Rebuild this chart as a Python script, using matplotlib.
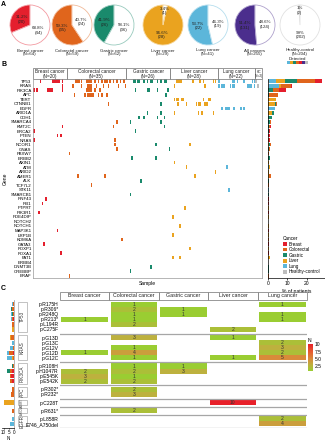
import numpy as np
import matplotlib.pyplot as plt
import matplotlib.colors as mcolors
import matplotlib.transforms as mtransforms
from matplotlib.patches import Rectangle, Patch
from matplotlib.cm import ScalarMappable

plt.rcParams['font.family'] = ['Liberation Sans', 'DejaVu Sans']
plt.rcParams['axes.linewidth'] = 0.5

W, H = 325, 440

# ---------------- data: panel A ----------------
pie_names = ['Breast cancer', 'Colorectal cancer', 'Gastric cancer', 'Liver cancer',
             'Lung cancer', 'All cancers', 'Healthy-control']
pie_detected = [20, 35, 26, 28, 22, 131, 2]
pie_undetected = [44, 24, 36, 1, 19, 124, 202]
pie_pct_det = ['31.2%', '59.3%', '41.9%', '96.6%', '53.7%', '51.4%', '1%']
pie_pct_und = ['68.8%', '40.7%', '58.1%', '3.4%', '46.3%', '48.6%', '99%']
pie_colors = ['#e41f2d', '#e0651c', '#1a8a6c', '#eaa31f', '#5cb6da', '#4b2e8d', '#bdbdbd']

# ---------------- data: panel B ----------------
genes = ['TP53', 'KRAS', 'PIK3CA', 'APC', 'TERT', 'CTNNB1', 'EGFR', 'ARID1A', 'CDH1',
         'SMARCA4', 'KMT2C', 'BRCA2', 'PTEN', 'NRAS', 'NCOR1', 'GNAS', 'FBXW7', 'ERBB2',
         'AXIN1', 'ATM', 'ARID2', 'AMER1', 'ALK', 'TCF7L2', 'STK11', 'SMARCB1', 'RNF43',
         'RB1', 'PTPRT', 'PIK3R1', 'PDE4DIP', 'NOTCH2', 'NOTCH1', 'MAP3K1', 'LRP1B',
         'KDM6A', 'GATA3', 'FOXP1', 'FOXA1', 'FAT1', 'ERBB4', 'DNMT3B', 'CREBBP', 'BRAF']
group_names = ['Breast cancer', 'Colorectal cancer', 'Gastric cancer', 'Liver cancer',
               'Lung cancer', 'HC']
group_sizes = [20, 35, 26, 28, 22, 2]
cancer_names = ['Breast', 'Colorectal', 'Gastric', 'Liver', 'Lung', 'Healthy-control']
cancer_colors = ['#e41f2d', '#e0651c', '#1a8a6c', '#eaa31f', '#5cb6da', '#bdbdbd']

# mutated sample positions inside each group
breast_mut = {'TP53': [4, 11, 12, 13, 14, 15, 17], 'KRAS': [17],
              'PIK3CA': [0, 2, 8, 9, 10, 11, 17], 'KMT2C': [17], 'BRCA2': [0],
              'PTEN': [14, 16], 'NRAS': [0], 'RNF43': [7], 'RB1': [5], 'PIK3R1': [3],
              'MAP3K1': [14], 'GATA3': [6], 'FOXA1': [16]}
colorectal_mut = {'TP53': [5, 6, 7, 8, 11, 12, 13, 14, 16, 18, 20, 22, 23, 25, 27, 29, 31, 33],
                  'KRAS': [3, 8, 12, 13, 14, 17, 21, 24, 30, 34],
                  'PIK3CA': [11, 12, 13, 14, 16, 19],
                  'APC': [4, 10, 12, 13, 14, 15, 18, 20, 23],
                  'CTNNB1': [24], 'SMARCA4': [29], 'KMT2C': [27], 'NRAS': [28],
                  'NCOR1': [28], 'GNAS': [29], 'FBXW7': [1], 'AMER1': [6, 22],
                  'TCF7L2': [14], 'KDM6A': [32], 'BRAF': [1]}
gastric_mut = {'TP53': [4, 5, 6, 7, 10, 12, 14, 15, 18, 20, 22, 23],
               'PIK3CA': [5, 12, 13, 18, 24], 'APC': [23], 'CTNNB1': [20],
               'ARID1A': [12, 20], 'CDH1': [7, 10, 18, 22], 'SMARCA4': [2, 20],
               'KMT2C': [22], 'BRCA2': [5], 'NCOR1': [17], 'GNAS': [25], 'ERBB2': [3, 17],
               'ALK': [8], 'SMARCB1': [2], 'DNMT3B': [14], 'CREBBP': [2]}
liver_mut = {'TP53': [3, 4, 5, 6, 13, 17, 19, 25, 26], 'KRAS': [2, 20],
             'TERT': [2, 3, 4, 6, 7, 19, 22, 23], 'CTNNB1': [4, 9, 15, 16, 17, 20, 21],
             'ARID1A': [2, 16, 18, 25], 'NCOR1': [11], 'AXIN1': [2], 'ATM': [9],
             'ARID2': [26], 'AMER1': [14], 'PTPRT': [8], 'PDE4DIP': [1], 'NOTCH1': [5],
             'LRP1B': [1], 'FOXP1': [11], 'FAT1': [1, 5]}
lung_mut = {'TP53': [0, 8, 9, 11, 15, 20, 21], 'KRAS': [0, 2, 3, 7, 8, 9, 17, 18, 19, 21],
            'EGFR': [2, 4, 5, 6, 9, 13, 15], 'ATM': [5], 'STK11': [6]}
hc_mut = {'TP53': [0], 'KRAS': [1]}
n_patients_bar = 193

# ---------------- data: panel C ----------------
c_mutations = ['p.R175H', 'p.R306*', 'p.R248Q', 'p.R213*', 'p.L194R', 'p.C275F',
               'p.G13D', 'p.G13C', 'p.G12V', 'p.G12D', 'p.G12C',
               'p.R108H', 'p.H1047R', 'p.E545K', 'p.E542K',
               'p.R302*', 'p.R232*', 'p.C228T', 'p.R631*', 'p.L858R', 'E746_A750del']
c_genes = ['TP53'] * 6 + ['KRAS'] * 5 + ['PIK3CA'] * 4 + ['APC'] * 2 + ['TERT'] + ['ARID1A'] + ['EGFR'] * 2
c_cancers = ['Breast cancer', 'Colorectal cancer', 'Gastric cancer', 'Liver cancer', 'Lung cancer']
c_breast = [0, 0, 0, 1, 0, 0, 0, 0, 0, 1, 0, 0, 2, 3, 2, 0, 0, 0, 0, 0, 0]
c_colorectal = [1, 2, 1, 1, 2, 0, 3, 0, 1, 4, 1, 1, 2, 1, 2, 2, 3, 0, 2, 0, 0]
c_gastric = [0, 1, 1, 0, 0, 0, 0, 0, 0, 0, 0, 1, 3, 0, 0, 0, 0, 0, 0, 0, 0]
c_liver = [0, 0, 0, 0, 0, 2, 1, 0, 0, 0, 1, 0, 0, 0, 0, 0, 0, 10, 0, 0, 0]
c_lung = [1, 0, 1, 1, 0, 0, 0, 2, 3, 2, 5, 0, 0, 0, 0, 0, 0, 0, 0, 2, 4]

fig = plt.figure(figsize=(W / 100, H / 100), dpi=100)


def px_axes(x, y, w, h):
    return fig.add_axes([x / W, 1 - (y + h) / H, w / W, h / H])


def lighten(c, f=0.55):
    r, g, b = mcolors.to_rgb(c)
    return (r + (1 - r) * f, g + (1 - g) * f, b + (1 - b) * f)


# ================= A: pies =================
axA = px_axes(0, 0, W, 62)
pie_x = [30, 72, 114, 163, 208, 255, 300]
cy, rad = 62 - 25, 20
for i in range(len(pie_names)):
    det, und = pie_detected[i], pie_undetected[i]
    col = pie_colors[i]
    axA.pie([det, und], colors=[col, 'white'], startangle=90, counterclock=True,
            center=(pie_x[i], cy), radius=rad,
            wedgeprops=dict(edgecolor=lighten(col), linewidth=0.6))
    f = det / (det + und)
    for frac, ang, txt, n in [(f, 90 + 180 * f, pie_pct_det[i], det),
                              (1 - f, 90 + 360 * f + 180 * (1 - f), pie_pct_und[i], und)]:
        rr = 0.5 if frac > 0.1 else 0.72
        a = np.deg2rad(ang)
        axA.text(pie_x[i] + rr * rad * np.cos(a), cy + rr * rad * np.sin(a),
                 f'{txt}\n({n})', ha='center', va='center', fontsize=3.2,
                 color='#222222', linespacing=1.1)
    axA.text(pie_x[i], 62 - 52.5, f'{pie_names[i]}\n(N={det + und})', ha='center',
             va='center', fontsize=3.2, color='#222222', linespacing=1.0)
axA.set_xlim(0, W)
axA.set_ylim(0, 62)
axA.set_aspect('equal')
axA.axis('off')

# ================= B: oncoprint =================
axB = px_axes(33, 79, 229, 199)
all_mut = [breast_mut, colorectal_mut, gastric_mut, liver_mut, lung_mut, hc_mut]
starts = np.concatenate([[0], np.cumsum(group_sizes)[:-1]])
counts = np.zeros((len(genes), len(all_mut)))
for g, muts in enumerate(all_mut):
    xs, ys = [], []
    for gene, idx in muts.items():
        r = genes.index(gene)
        counts[r, g] = len(idx)
        for s in idx:
            xs.append(starts[g] + s + 0.5)
            ys.append(r - 0.4)
    axB.bar(xs, 0.8, bottom=ys, width=0.95, color=cancer_colors[g], linewidth=0)

x_end = [starts[g] + group_sizes[g] for g in range(len(group_sizes))]
x_end[-1] = 135
axB.set_xlim(0, 135)
axB.set_ylim(len(genes) - 0.5, -0.5)
axB.set_yticks(range(len(genes)))
axB.set_yticklabels(genes, fontsize=3.2)
axB.set_xticks([])
axB.tick_params(axis='y', length=0, pad=1)
axB.set_xlabel('Sample', fontsize=3.6, labelpad=2)
axB.set_ylabel('Gene', fontsize=3.6, labelpad=2)
for s in ['left', 'bottom', 'right']:
    axB.spines[s].set_color('#999999')
axB.spines['top'].set_visible(False)

transB = mtransforms.blended_transform_factory(axB.transData, axB.transAxes)
for g, name in enumerate(group_names):
    x0, x1 = starts[g], x_end[g]
    axB.add_patch(Rectangle((x0, 1.0), x1 - x0, 0.055, transform=transB, fill=False,
                            edgecolor='#888888', linewidth=0.6, clip_on=False))
    fs = 3.4 if g < 5 else 2.3
    axB.text((x0 + x1) / 2, 1.0275, f'{name}\n(N={group_sizes[g]})', transform=transB,
             ha='center', va='center', fontsize=fs, color='#222222', linespacing=1.0)

# side bars
axB2 = px_axes(268, 79, 58, 199)
order = [5, 4, 3, 2, 1, 0]
left = np.zeros(len(genes))
for g in order:
    pct = counts[:, g] / n_patients_bar * 100
    axB2.barh(range(len(genes)), pct, left=left, height=0.8, color=cancer_colors[g],
              linewidth=0)
    left += pct
axB2.set_xlim(0, 30)
axB2.set_ylim(len(genes) - 0.5, -0.5)
axB2.set_xticks([0, 10, 20])
axB2.tick_params(axis='x', labelsize=3.6, length=1.5, width=0.5, pad=1)
axB2.set_yticks([])
axB2.set_xlabel('% of patients', fontsize=3.6, labelpad=1.5)
for s in ['top', 'right']:
    axB2.spines[s].set_visible(False)

handles = [Patch(facecolor=c, edgecolor='none') for c in cancer_colors]
fig.legend(handles, cancer_names, title='Cancer', loc='upper left',
           bbox_to_anchor=(283 / W, 1 - 236 / H), fontsize=3.3, title_fontsize=3.4,
           frameon=False, handlelength=0.9, handleheight=0.9, labelspacing=0.12,
           handletextpad=0.3, borderpad=0, borderaxespad=0, alignment='left')

# ================= C: hotspot heatmap =================
cmap = mcolors.LinearSegmentedColormap.from_list(
    'n', [(0, '#9acd32'), (0.22, '#bdb13e'), (0.45, '#d98a3a'), (0.72, '#e65a30'),
          (1, '#e8202a')])
norm = mcolors.Normalize(vmin=1, vmax=10)

pad = 0.3
group_order = list(dict.fromkeys(c_genes))
row_top, spans = [], []
y = 0.0
for gname in group_order:
    y += pad
    top = y
    for _ in range(c_genes.count(gname)):
        row_top.append(y)
        y += 1
    spans.append((gname, top, y))
    y += pad
y_total = y
row_top = np.array(row_top)
row_mid = row_top + 0.5

axC = px_axes(60, 300, 247, 128)
c_values = [c_breast, c_colorectal, c_gastric, c_liver, c_lung]
for c, vals in enumerate(c_values):
    vals = np.array(vals)
    m = vals > 0
    axC.bar(np.full(m.sum(), c + 0.5), np.ones(m.sum()), bottom=row_top[m], width=0.94,
            color=cmap(norm(vals[m])), linewidth=0)
    for r in np.where(m)[0]:
        axC.text(c + 0.5, row_mid[r], str(vals[r]), ha='center', va='center',
                 fontsize=3.6, color='#333333')
for gname, top, bot in spans:
    axC.axhline(bot + pad, color='#a6a6a6', linewidth=0.9)
axC.set_xlim(0, 5)
axC.set_ylim(y_total, 0)
axC.set_xticks([])
axC.set_yticks(row_mid)
axC.set_yticklabels(c_mutations, fontsize=3.6)
axC.tick_params(axis='y', length=0, pad=1)
for s in axC.spines.values():
    s.set_visible(False)

transC = mtransforms.blended_transform_factory(axC.transData, axC.transAxes)
for c, name in enumerate(c_cancers):
    axC.add_patch(Rectangle((c, 1.0), 1, 0.065, transform=transC, fill=False,
                            edgecolor='#888888', linewidth=0.6, clip_on=False))
    axC.text(c + 0.5, 1.0325, name, transform=transC, ha='center', va='center',
             fontsize=3.8, color='#222222')

transG = mtransforms.blended_transform_factory(axC.transAxes, axC.transData)
for gname, top, bot in spans:
    axC.add_patch(Rectangle((-0.172, top), 0.04, bot - top, transform=transG, fill=False,
                            edgecolor='#aaaaaa', linewidth=0.5, clip_on=False))
    fs = 3.3 if bot - top > 1.5 else 1.9
    axC.text(-0.152, (top + bot) / 2, gname, transform=transG, rotation=90,
             ha='center', va='center', fontsize=fs, color='#333333')

# N bars on the left
axN = px_axes(2, 300, 12, 128)
leftN = np.zeros(len(c_mutations))
for c, vals in enumerate(c_values):
    vals = np.array(vals, dtype=float)
    axN.barh(row_mid, vals, left=leftN, height=0.85, color=cancer_colors[c], linewidth=0)
    leftN += vals
axN.set_xlim(11.5, 0)
axN.set_ylim(y_total, 0)
axN.set_yticks([])
axN.set_xticks([10, 5, 0])
axN.tick_params(axis='x', labelsize=3.3, length=1, width=0.5, pad=0.5)
axN.set_xlabel('N', fontsize=3.3, labelpad=0.5)
for s in ['top', 'left']:
    axN.spines[s].set_visible(False)
axN.spines['right'].set_color('#999999')

cax = px_axes(308, 344, 5, 27)
cb = fig.colorbar(ScalarMappable(norm=norm, cmap=cmap), cax=cax, ticks=[2.5, 5, 7.5, 10])
cb.ax.set_yticklabels(['2.5', '5.0', '7.5', '10'])
cb.ax.tick_params(labelsize=3.6, length=0, pad=1)
cb.outline.set_visible(False)
cax.set_title('N', fontsize=3.6, pad=1.5, loc='left')

# ================= overlay: panel letters, detected key =================
ov = fig.add_axes([0, 0, 1, 1])
ov.set_xlim(0, W)
ov.set_ylim(H, 0)
ov.axis('off')
ov.patch.set_alpha(0)
for letter, yy in [('A', 4), ('B', 65), ('C', 289)]:
    ov.text(1, yy, letter, fontsize=5, fontweight='bold', va='center', ha='left')
ov.text(297, 59.3, 'Detected', fontsize=3.2, ha='center', va='center', color='#222222')
key_colors = ['#5cb6da', '#eaa31f', '#1a8a6c', '#e0651c', '#e41f2d', '#4b2e8d', '#bdbdbd']
for k, kc in enumerate(key_colors):
    ov.add_patch(Rectangle((287 + k * 3, 61.5), 3, 2.2, facecolor=kc, edgecolor='none'))

fig.savefig('out.png', dpi=100)
